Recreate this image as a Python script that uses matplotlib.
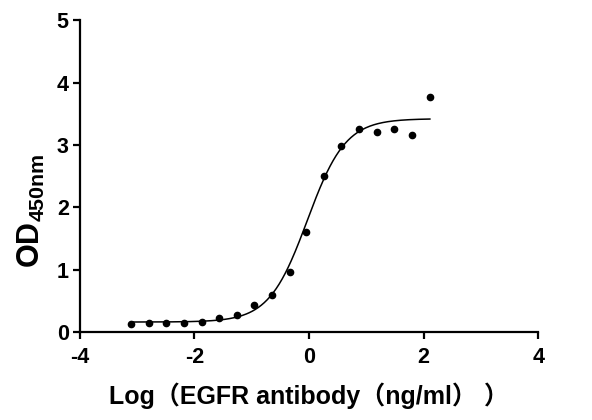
import numpy as np
import matplotlib.pyplot as plt

plt.rcParams['mathtext.fontset'] = 'custom'
plt.rcParams['mathtext.bf'] = 'Liberation Sans:bold'
plt.rcParams['mathtext.rm'] = 'Liberation Sans:bold'
plt.rcParams['axes.unicode_minus'] = False

# measured points (log concentration, OD450)
log_conc = [-3.10, -2.79, -2.49, -2.18, -1.87, -1.57, -1.26, -0.96, -0.65,
            -0.34, -0.05, 0.255, 0.56, 0.88, 1.18, 1.49, 1.80, 2.11]
od450 = [0.13, 0.14, 0.14, 0.15, 0.16, 0.22, 0.28, 0.44, 0.59,
         0.97, 1.60, 2.50, 2.99, 3.26, 3.21, 3.25, 3.16, 3.77]

# 4PL fit parameters
bottom = 0.16
top = 3.42
log_ec50 = -0.03
hill = 1.3

xs = np.linspace(min(log_conc), max(log_conc), 300)
fit = bottom + (top - bottom) / (1 + 10 ** ((log_ec50 - xs) * hill))

fig = plt.figure(figsize=(5.92, 4.2), dpi=100)
ax = fig.add_axes([0.135, 0.2095, 0.774, 0.7425])

ax.plot(xs, fit, color='black', lw=1.1)
ax.plot(log_conc, od450, 'o', color='black', ms=4.5)

ax.set_xlim(-4, 4)
ax.set_ylim(0, 5)
ax.set_xticks([-4, -2, 0, 2, 4])
ax.set_yticks([0, 1, 2, 3, 4, 5])

for s in ['top', 'right']:
    ax.spines[s].set_visible(False)
for s in ['left', 'bottom']:
    ax.spines[s].set_linewidth(1.6)
ax.tick_params(width=1.6, length=5, labelsize=15.5)
ax.tick_params(axis='x', pad=6)
ax.tick_params(axis='y', pad=3)
for lab in ax.get_xticklabels() + ax.get_yticklabels():
    lab.set_fontfamily('Liberation Sans')
    lab.set_fontweight('bold')

ax.set_xlabel('Log（EGFR antibody（ng/ml） ）', fontsize=18, fontweight='bold',
              family=['Liberation Sans', 'Noto Sans CJK SC'], labelpad=10)
ax.set_ylabel(r'$\mathbf{OD_{450nm}}$', fontsize=22)
ax.yaxis.set_label_coords(-0.072, 0.39)

fig.savefig('out.png', dpi=100)
